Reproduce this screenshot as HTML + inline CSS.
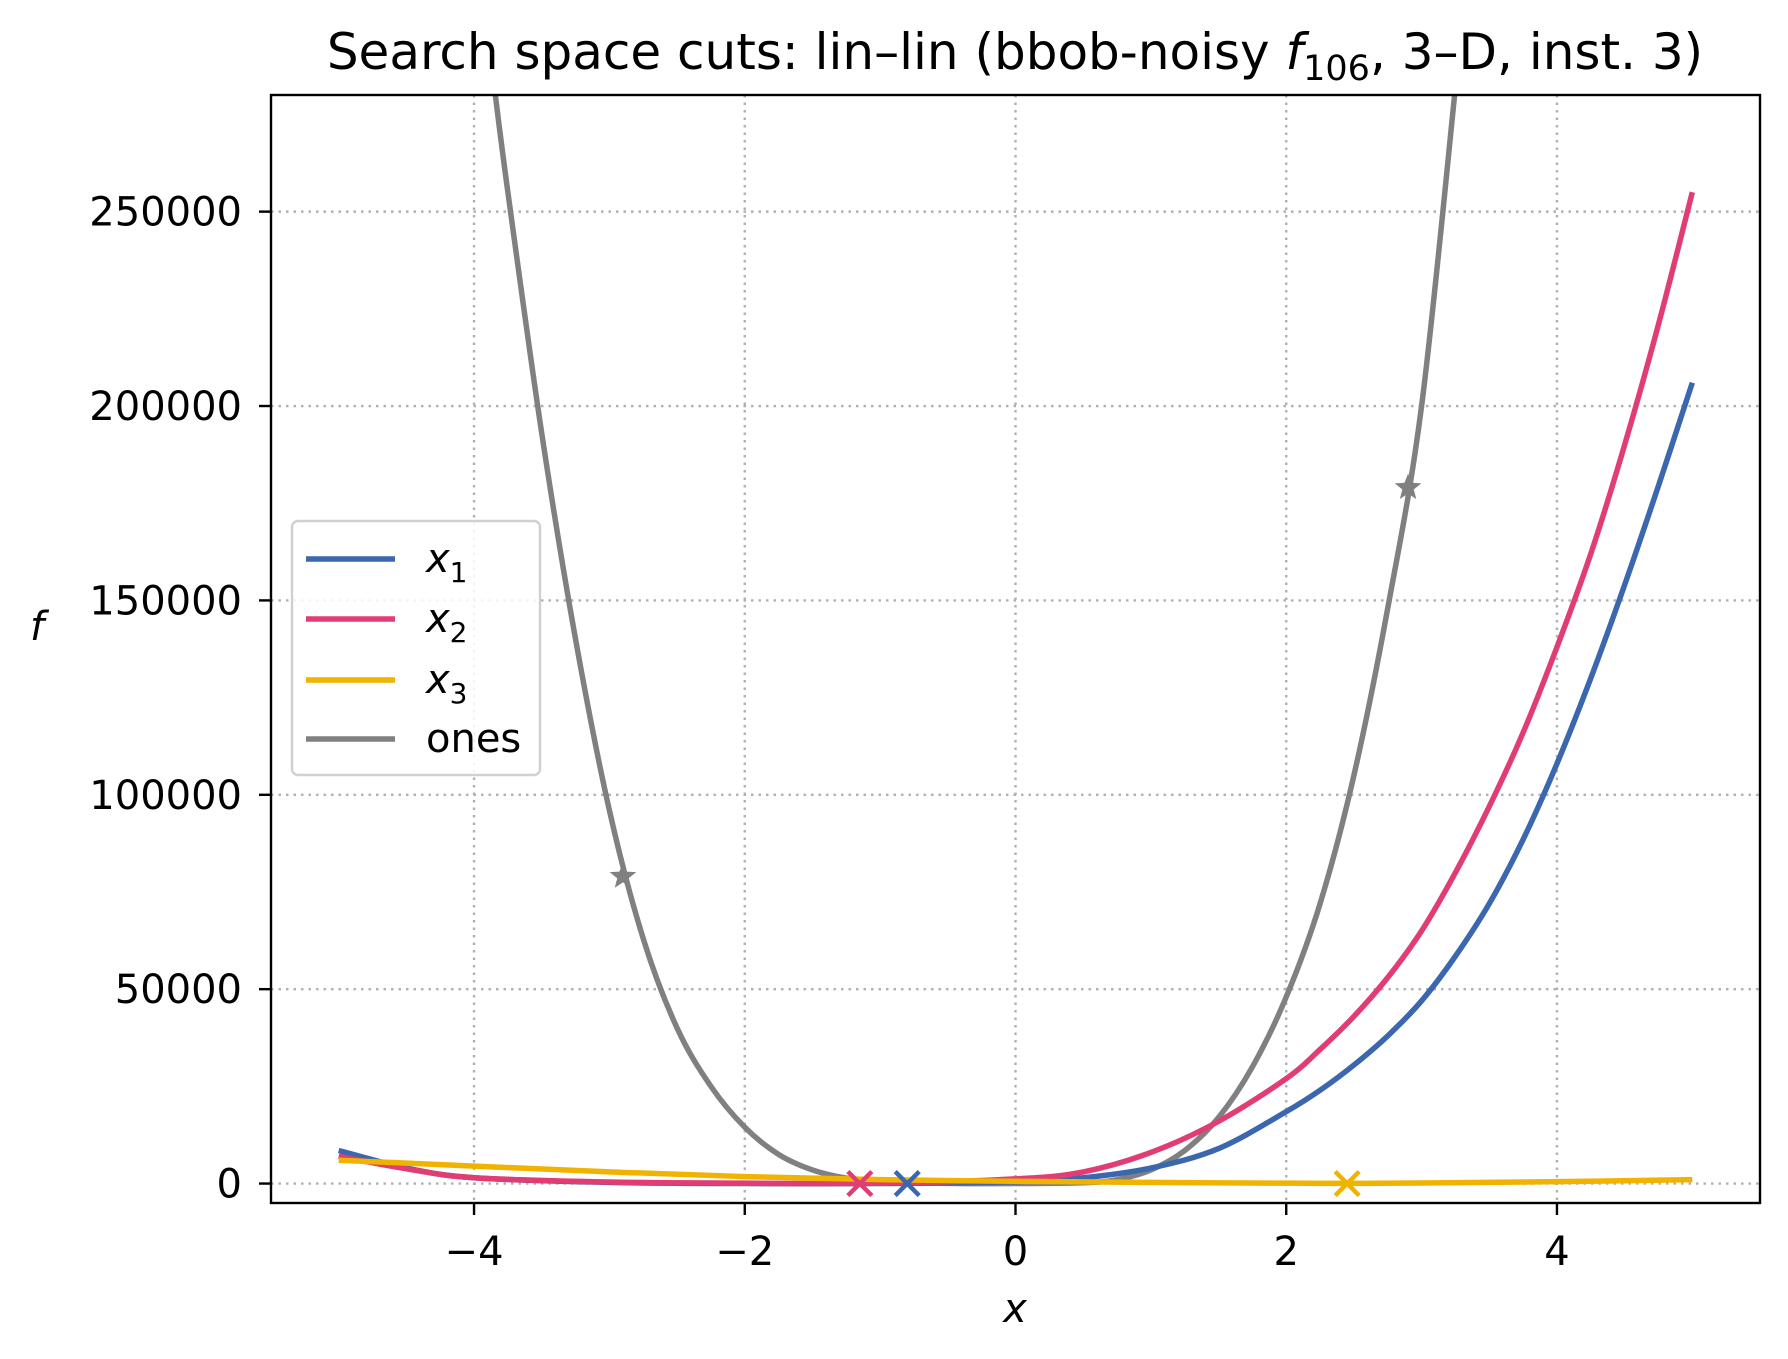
<!DOCTYPE html>
<html><head><meta charset="utf-8"><style>
body{margin:0;background:#fff}
svg{display:block;font-family:"DejaVu Sans","Liberation Sans",sans-serif}
</style></head><body>
<svg id="chart" width="1788" height="1359" viewBox="0 0 1788 1359" xmlns="http://www.w3.org/2000/svg">
<rect width="1788" height="1359" fill="#fff"/>
<text x="1015" y="69" text-anchor="middle" font-size="50">Search space cuts: lin–lin (bbob-noisy <tspan font-style="italic">f</tspan><tspan font-size="35" dy="11">106</tspan><tspan dy="-11">, 3–D, inst. 3)</tspan></text>
<g id="grid"></g>
<g id="series"></g>
<g id="axes"></g>
<text x="30" y="640" font-size="40" font-style="italic">f</text>
<text x="1015" y="1322" text-anchor="middle" font-size="40" font-style="italic">x</text>
<g id="legend"></g>
</svg>
<script>
const xTicks=[-4,-2,0,2,4];
const xTickLabels=["−4","−2","0","2","4"];
const yTicks=[0,50000,100000,150000,200000,250000];
const yTickLabels=["0","50000","100000","150000","200000","250000"];
const seriesNames=["x1","x2","x3","ones"];
const grayX=[-3.85,-3.75,-3.5,-3.25,-3,-2.75,-2.5,-2.25,-2,-1.75,-1.5,-1.25,-1,-0.5,0,0.5,0.75,1,1.25,1.5,1.75,2,2.25,2.5,2.75,3,3.25];
const grayY=[282000,255000,193000,140000,96000,63000,40000,25000,14500,7500,3500,1400,500,50,0,200,1000,3500,8500,17000,30000,48000,72000,105000,148000,200000,282000];
const blueX=[-5,-4.5,-4,-3,-2,-1,0,0.5,1,1.5,2,2.25,2.5,2.75,3,3.25,3.5,3.75,4,4.25,4.5,4.75,5];
const blueY=[8500,4000,1500,300,0,0,500,1500,4000,9000,18500,24000,30500,38000,47000,58500,72000,88500,108000,130000,154000,179500,206000];
const pinkX=[-5,-4.5,-4,-3,-2,-1,0,0.5,1,1.5,2,2.25,2.5,2.75,3,3.25,3.5,3.75,4,4.25,4.5,4.75,5];
const pinkY=[7000,3800,1500,400,100,100,1200,3000,8000,16000,27000,34500,43000,53000,65000,80000,97000,116000,138000,162000,190000,221000,255000];
const yellowX=[-5,-4,-3,-2,-1,0,1,2,2.45,3,4,5];
const yellowY=[6000,4500,3000,1800,1000,600,300,100,50,150,500,1000];
const crossX=[-0.8,-1.15,2.45];
const crossY=[0,0,0];
const starX=[-2.9,2.9];
const starY=[79000,179000];
const L=271,R=1760,T=95,B=1203,XMIN=-5.5,XMAX=5.5,YMIN=-5000,YMAX=280000;
const sx=v=>L+(v-XMIN)/(XMAX-XMIN)*(R-L);
const sy=v=>B-(v-YMIN)/(YMAX-YMIN)*(B-T);
const NS="http://www.w3.org/2000/svg";
function mk(tag,attrs,parent){const e=document.createElementNS(NS,tag);for(const k in attrs)e.setAttribute(k,attrs[k]);parent.appendChild(e);return e;}
const grid=document.getElementById('grid'),axes=document.getElementById('axes'),ser=document.getElementById('series'),leg=document.getElementById('legend');
xTicks.forEach((t,i)=>{
 const g=mk('line',{x1:sx(t),x2:sx(t),y1:T,y2:B,stroke:'#b0b0b0','stroke-width':2.4,'stroke-dasharray':'2.5,5'},grid);
 
 
 const tk=mk('line',{x1:sx(t),x2:sx(t),y1:B,y2:B+12,stroke:'#000','stroke-width':2.4},axes);
 
 
 const tx=mk('text',{x:sx(t),y:B+62,'text-anchor':'middle','font-size':40},axes);
 tx.textContent=xTickLabels[i];
 
 
});
yTicks.forEach((t,i)=>{
 const g=mk('line',{x1:L,x2:R,y1:sy(t),y2:sy(t),stroke:'#b0b0b0','stroke-width':2.4,'stroke-dasharray':'2.5,5'},grid);
 
 
 const tk=mk('line',{x1:L-12,x2:L,y1:sy(t),y2:sy(t),stroke:'#000','stroke-width':2.4},axes);
 
 
 const tx=mk('text',{x:L-29,y:sy(t)+14,'text-anchor':'end','font-size':40},axes);
 tx.textContent=yTickLabels[i];
 
 
});
const frame=mk('rect',{x:L,y:T,width:R-L,height:B-T,fill:'none',stroke:'#000','stroke-width':2.4},axes);


function pathD(xs,ys){
 const p=xs.map((x,i)=>[sx(x),sy(ys[i])]);
 let d='M'+p[0][0]+','+p[0][1];
 for(let i=0;i<p.length-1;i++){
  const p0=p[Math.max(0,i-1)],p1=p[i],p2=p[i+1],p3=p[Math.min(p.length-1,i+2)];
  const c1=[p1[0]+(p2[0]-p0[0])/6,p1[1]+(p2[1]-p0[1])/6],c2=[p2[0]-(p3[0]-p1[0])/6,p2[1]-(p3[1]-p1[1])/6];
  d+=' C'+c1+' '+c2+' '+p2;
 }
 return d;
}
const cp=mk('clipPath',{id:'clip'},ser);mk('rect',{x:L,y:T,width:R-L,height:B-T},cp);
const colors=['#3a67ad','#e23d73','#f0b400','#808080'];
const data=[[blueX,blueY],[pinkX,pinkY],[yellowX,yellowY],[grayX,grayY]];
const order=[3,0,1,2];
order.forEach(k=>{
 const p=mk('path',{d:pathD(data[k][0],data[k][1]),fill:'none',stroke:colors[k],'stroke-width':5.5,'clip-path':'url(#clip)'},ser);
 
 
});
crossX.forEach((x,i)=>{
 const cx=sx(x),cy=sy(crossY[i]),s=12;
 const c=mk('path',{d:`M${cx-s},${cy-s}L${cx+s},${cy+s}M${cx-s},${cy+s}L${cx+s},${cy-s}`,stroke:colors[i],'stroke-width':4.5},ser);
 
 
});
starX.forEach((x,i)=>{
 const cx=sx(x),cy=sy(starY[i]);let pts=[];
 for(let j=0;j<10;j++){const r=j%2?6:14,a=-Math.PI/2+j*Math.PI/5;pts.push((cx+r*Math.cos(a))+','+(cy+r*Math.sin(a)));}
 const s=mk('polygon',{points:pts.join(' '),fill:'#808080'},ser);
 
 
});
const box=mk('rect',{x:292,y:521,width:248,height:254,rx:6,fill:'#fff','fill-opacity':0.85,stroke:'#d0d0d0','stroke-width':2.4},leg);


const labs=[['x','1'],['x','2'],['x','3'],['ones','']];
[559,619,680,739].forEach((y,i)=>{
 const g=mk('g',{},leg);
 
 
 mk('line',{x1:306,x2:395,y1:y,y2:y,stroke:colors[i],'stroke-width':5.5},g);
 const t=mk('text',{x:426,y:y+13,'font-size':40},g);
 if(labs[i][1]){t.innerHTML='<tspan font-style="italic">x</tspan><tspan font-size="28" dy="10">'+labs[i][1]+'</tspan>';}
 else t.textContent='ones';
});
</script>
</body></html>
